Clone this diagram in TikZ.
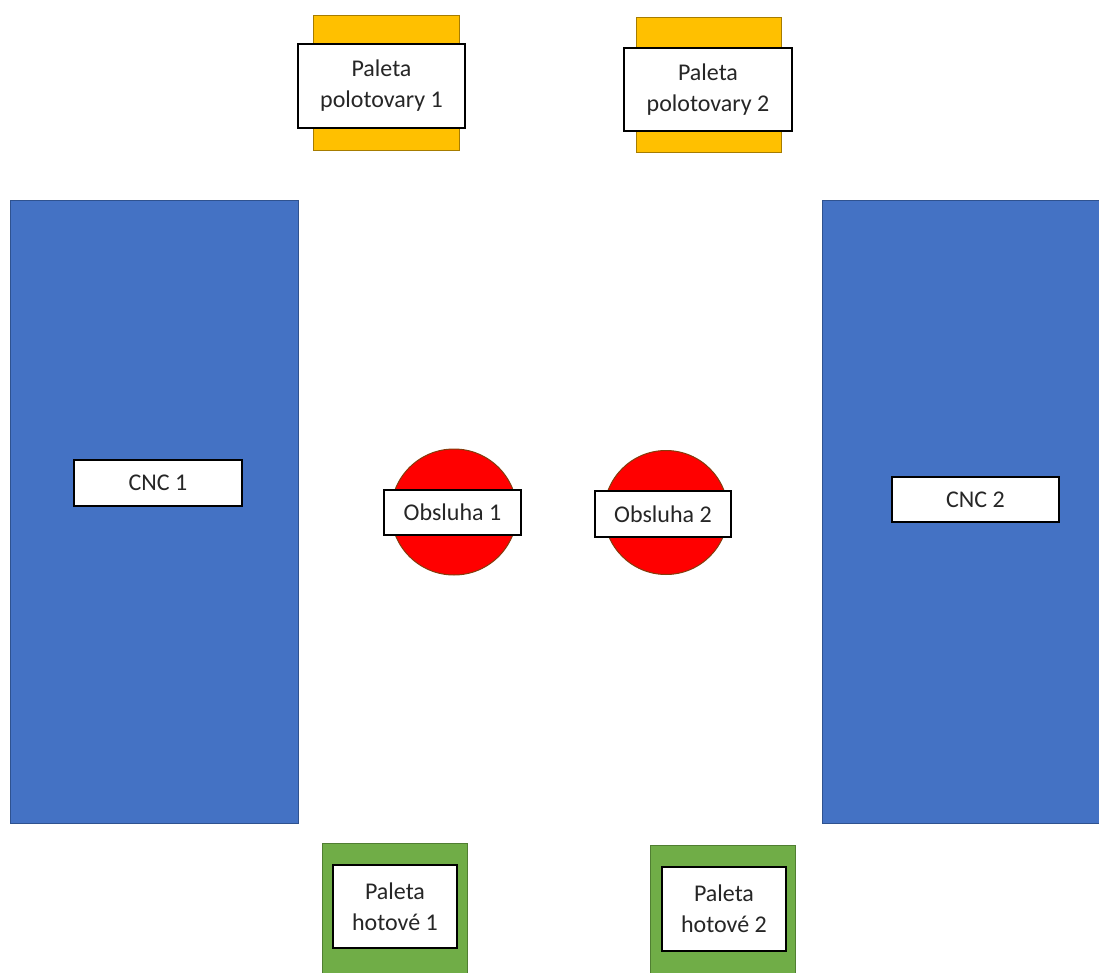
\documentclass[tikz,border=0pt]{standalone}
\usepackage{fontspec}
\setmainfont{Carlito}
\definecolor{palyellow}{HTML}{FFC000}
\definecolor{palyellowline}{HTML}{A67C00}
\definecolor{cncblue}{HTML}{4472C4}
\definecolor{cncblueline}{HTML}{2F528F}
\definecolor{palgreen}{HTML}{70AD47}
\definecolor{palgreenline}{HTML}{507E32}
\definecolor{opred}{HTML}{FF0000}
\definecolor{opredline}{HTML}{843C0C}
\definecolor{labeltext}{HTML}{262626}
\begin{document}
\begin{tikzpicture}[x=1pt,y=-1pt,
  block/.style={rectangle, inner sep=0pt, outer sep=0pt, line width=1pt},
  pallettop/.style={block, draw=palyellowline, fill=palyellow},
  palletbottom/.style={block, draw=palgreenline, fill=palgreen},
  machine/.style={block, draw=cncblueline, fill=cncblue},
  operator/.style={circle, inner sep=0pt, outer sep=0pt, line width=1pt,
    draw=opredline, fill=opred},
  tag/.style={block, draw=black, line width=1.3pt, fill=white,
    text=labeltext, align=center,
    font=\fontsize{24}{31}\selectfont}
]
\useasboundingbox (0,0) rectangle (1099,973);

% input pallets (semi-finished parts)
\node[pallettop, minimum width=146, minimum height=135] (py1) at (386,83.5) {};
\node[tag, minimum width=167, minimum height=84] (pl1) at (381.5,86) {Paleta\\polotovary 1};
\node[pallettop, minimum width=145, minimum height=135] (py2) at (708.5,85.5) {};
\node[tag, minimum width=168, minimum height=83] (pl2) at (708,89.5) {Paleta\\polotovary 2};

% machines
\node[machine, minimum width=288, minimum height=622] (cnc1) at (154,512) {};
\node[tag, minimum width=168, minimum height=46] (cnc1l) at (158,483) {CNC 1};
\node[machine, minimum width=279, minimum height=622] (cnc2) at (961.5,512) {};
\node[tag, minimum width=167, minimum height=45] (cnc2l) at (975.5,499.5) {CNC 2};

% operators
\node[operator, minimum size=126] (op1) at (454,512) {};
\node[tag, minimum width=137, minimum height=45] (op1l) at (452.5,512.5) {Obsluha 1};
\node[operator, minimum size=124] (op2) at (666,512.5) {};
\node[tag, minimum width=136, minimum height=46] (op2l) at (663,514) {Obsluha 2};

% output pallets (finished parts)
\node[palletbottom, minimum width=145, minimum height=137] (pg1) at (394.5,911.5) {};
\node[tag, minimum width=124, minimum height=83] (pg1l) at (395,906.5) {Paleta\\hotové 1};
\node[palletbottom, minimum width=145, minimum height=135] (pg2) at (722.5,912.5) {};
\node[tag, minimum width=124, minimum height=84] (pg2l) at (724,909) {Paleta\\hotové 2};
\end{tikzpicture}
\end{document}
